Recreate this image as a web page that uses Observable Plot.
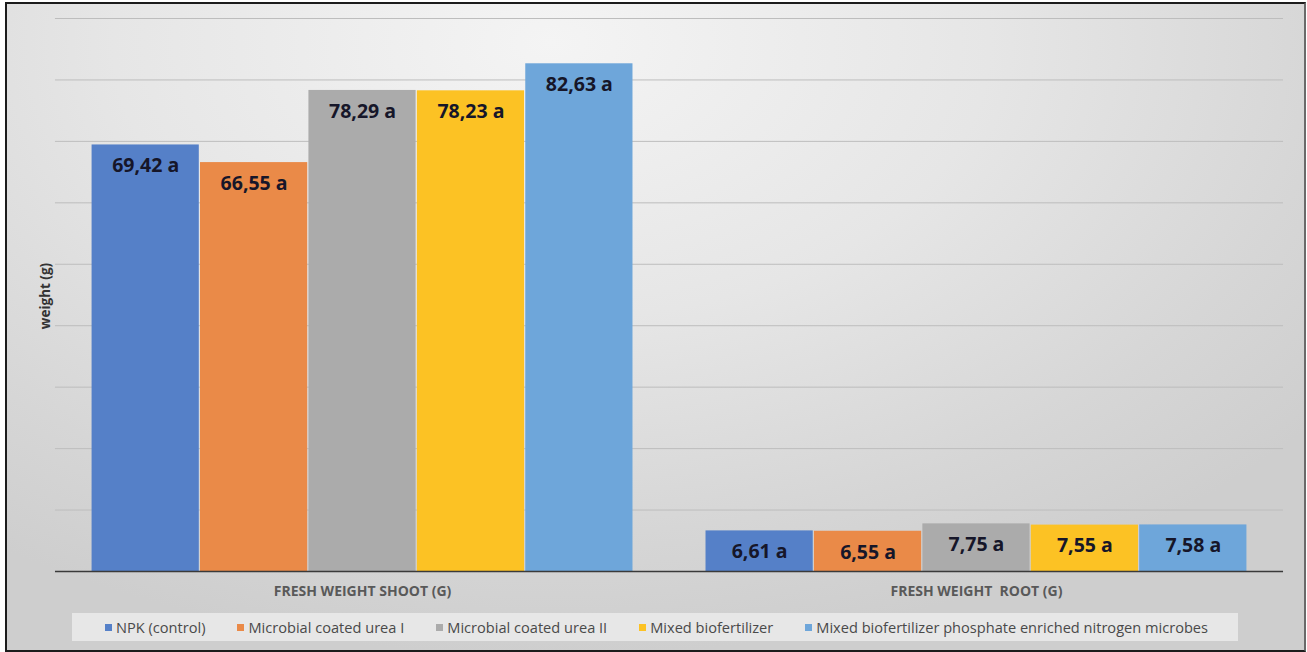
<!DOCTYPE html>
<html>
<head>
<meta charset="utf-8">
<script src="https://cdn.jsdelivr.net/npm/d3@7"></script>
<script src="https://cdn.jsdelivr.net/npm/@observablehq/plot@0.6"></script>
<style>
  html, body { margin: 0; padding: 0; background: #ffffff; }
  body { width: 1307px; height: 652px; position: relative; overflow: hidden; font-family: "Open Sans", Lato, sans-serif; }
  #frame {
    position: absolute; left: 5px; top: 2px; width: 1297px; height: 646px;
    border: 2px solid #1c1c1c; border-right-color: #6a6a6a;
    background: radial-gradient(ellipse 75% 95% at 42% 6%, #f4f4f4 0%, #e6e6e6 45%, #d6d6d6 80%, #cecece 100%);
  }
  #chart { position: absolute; left: 0; top: 0; }
  #chart svg text { white-space: pre; }
  #chart g[aria-label^="fx-axis"], #chart g[aria-label^="fx-axis"] text {
    font-size: 14px !important; font-weight: bold !important; fill: #595959 !important;
  }
  #ylabel {
    position: absolute; left: 45px; top: 296px; transform: translate(-50%, -50%) rotate(-90deg);
    font-size: 13.5px; font-weight: bold; color: #333333; white-space: nowrap; font-family: "Open Sans", sans-serif;
  }
  #legend {
    position: absolute; left: 72px; top: 613px; width: 1166px; height: 28px;
    background: #e7e7e7; display: flex; align-items: center; box-sizing: border-box;
    padding-left: 33px; font-size: 14.6px; color: #4a4a4a; font-family: "Open Sans", sans-serif;
  }
  #legend .item { display: flex; align-items: center; margin-right: 32px; white-space: pre; }
  #legend .sw { width: 7px; height: 7px; margin-right: 4px; }
</style>
</head>
<body>
<div id="frame"></div>
<div id="chart"></div>
<div id="ylabel"></div>
<div id="legend"></div>
<script>
const groups = ["FRESH WEIGHT SHOOT (G)", "FRESH WEIGHT  ROOT (G)"];
const series = ["NPK (control)", "Microbial coated urea I", "Microbial coated urea II", "Mixed biofertilizer", "Mixed biofertilizer phosphate enriched nitrogen microbes"];
const shootValues = [69.42, 66.55, 78.29, 78.23, 82.63];
const rootValues = [6.61, 6.55, 7.75, 7.55, 7.58];
const shootLetters = ["a", "a", "a", "a", "a"];
const rootLetters = ["a", "a", "a", "a", "a"];
const colors = ["#5580c8", "#ea8a48", "#ababab", "#fcc224", "#6ea6da"];
const gridTicks = [10, 20, 30, 40, 50, 60, 70, 80, 90];
const yAxisTitle = "weight (g)";

const data = [];
series.forEach((s, i) => data.push({group: groups[0], series: s, value: shootValues[i], letter: shootLetters[i]}));
series.forEach((s, i) => data.push({group: groups[1], series: s, value: rootValues[i], letter: rootLetters[i]}));
const fmt = d => d.value.toFixed(2).replace(".", ",") + " " + d.letter;

const chart = Plot.plot({
  width: 1307,
  height: 605,
  marginTop: 18,
  marginBottom: 34,
  marginLeft: 55,
  marginRight: 24,
  style: {background: "transparent", fontFamily: "'Open Sans', Lato, sans-serif", fontSize: "14px", fontWeight: "bold", color: "#595959"},
  fx: {domain: groups, paddingInner: 0.117, paddingOuter: 0.0586, round: false, label: null, tickSize: 0, tickPadding: 15},
  x: {domain: series, padding: 0, round: false, axis: null},
  y: {domain: [0, 90], axis: null},
  color: {domain: series, range: colors},
  marks: [
    Plot.ruleY(gridTicks, {stroke: "#bdbdbd", strokeWidth: 1, insetLeft: -36, insetRight: -36}),
    Plot.barY(data, {fx: "group", x: "series", y: "value", fill: "series", insetLeft: 0.6, insetRight: 0.6}),
    Plot.ruleY([0], {stroke: "#3a3a3a", strokeWidth: 1.6, insetLeft: -36, insetRight: -36}),
    Plot.text(data, {fx: "group", x: "series", y: "value", text: fmt, dy: 21, fill: "#161629", fontSize: 19.5, fontWeight: "bold", fontFamily: "'Open Sans', sans-serif"})
  ]
});
document.getElementById("chart").appendChild(chart);

document.getElementById("ylabel").textContent = yAxisTitle;

const legend = document.getElementById("legend");
series.forEach((s, i) => {
  const item = document.createElement("div");
  item.className = "item";
  const sw = document.createElement("span");
  sw.className = "sw";
  sw.style.background = colors[i];
  const label = document.createElement("span");
  label.textContent = s;
  item.appendChild(sw);
  item.appendChild(label);
  legend.appendChild(item);
});
</script>
</body>
</html>
